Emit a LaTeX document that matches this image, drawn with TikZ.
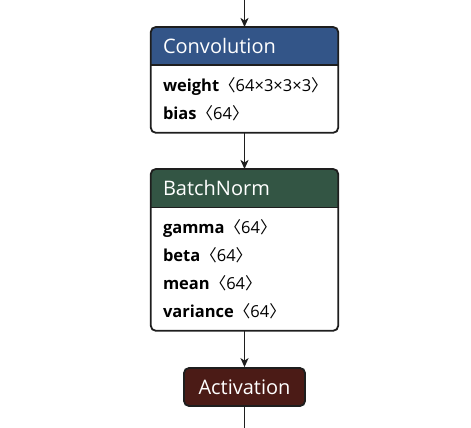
\documentclass[tikz,border=0pt]{standalone}
\usepackage{fontspec}
\setmainfont{Open Sans}
\newfontfamily\cjk{Noto Sans CJK SC}
\usetikzlibrary{positioning,arrows.meta}

\definecolor{layerblue}{RGB}{51,85,136}
\definecolor{normgreen}{RGB}{51,85,68}
\definecolor{actred}{RGB}{75,27,22}
\definecolor{edgegray}{RGB}{30,30,30}

\pgfdeclarelayer{background}
\pgfsetlayers{background,main}

\newcommand{\tshape}[1]{{\cjk 〈}#1{\cjk 〉}}

\begin{document}
\begin{tikzpicture}[x=1pt, y=-1pt,
  head/.style={anchor=north, minimum width=187pt, minimum height=38pt, inner xsep=12pt, inner ysep=0pt, text width=163pt, align=left, text=white, font=\fontsize{20}{22}\selectfont},
  attrs/.style={anchor=north, minimum width=187pt, inner xsep=12pt, inner ysep=0pt, text width=163pt, align=left, font=\fontsize{16.5}{28}\selectfont},
  box/.style={draw=edgegray, line width=1.8pt, rounded corners=5pt},
  op/.style={draw=edgegray, line width=1.8pt, rounded corners=5pt, minimum width=121pt, minimum height=38pt, inner sep=0pt, text=white, font=\fontsize{20}{22}\selectfont},
  edge/.style={draw=edgegray, line width=1.8pt, -{Stealth[length=9pt, width=8pt, inset=2.5pt]}}]
\useasboundingbox (0,0) rectangle (471,428);

% convolution
\node[head] (convhead) at (244.5,27) {Convolution};
\node[attrs, minimum height=67pt] (convbody) at (convhead.south) {\textbf{weight}\tshape{64×3×3×3}\\\textbf{bias}\tshape{64}};
\begin{pgfonlayer}{background}
\fill[layerblue] (convhead.south west) [rounded corners=5pt] -- (convhead.north west) -- (convhead.north east) [sharp corners] -- (convhead.south east) -- cycle;
\end{pgfonlayer}
\draw[edgegray, line width=1.8pt] (convhead.south west) -- (convhead.south east);
\draw[box] (convhead.north west) rectangle (convbody.south east);

% batchnorm
\node[head] (bnhead) at (244.5,169) {BatchNorm};
\node[attrs, minimum height=123pt] (bnbody) at (bnhead.south) {\textbf{gamma}\tshape{64}\\\textbf{beta}\tshape{64}\\\textbf{mean}\tshape{64}\\\textbf{variance}\tshape{64}};
\begin{pgfonlayer}{background}
\fill[normgreen] (bnhead.south west) [rounded corners=5pt] -- (bnhead.north west) -- (bnhead.north east) [sharp corners] -- (bnhead.south east) -- cycle;
\end{pgfonlayer}
\draw[edgegray, line width=1.8pt] (bnhead.south west) -- (bnhead.south east);
\draw[box] (bnhead.north west) rectangle (bnbody.south east);

% activation
\node[op, fill=actred] (act) at (244.5,387) {Activation};

\coordinate (in) at (244.5,0);
\coordinate (out) at (244.5,428);
\draw[edge] (in) -- (convhead);
\draw[edge] (convbody) -- (bnhead);
\draw[edge] (bnbody) -- (act);
\draw[edgegray, line width=1.8pt] (act) -- (out);
\end{tikzpicture}
\end{document}
